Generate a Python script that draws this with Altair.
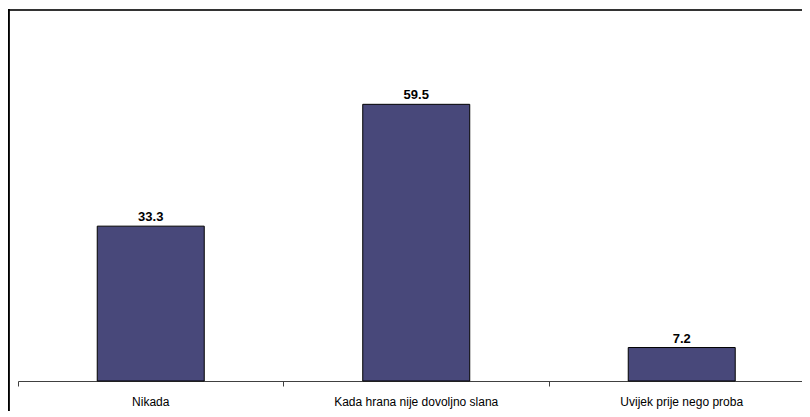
import altair as alt
import pandas as pd

categories = ["Nikada", "Kada hrana nije dovoljno slana", "Uvijek prije nego proba"]
values = [33.3, 59.5, 7.2]
labels = ["33.3", "59.5", "7.2"]

W = 784
H = 372
half = 0.2015

df = pd.DataFrame({
    "idx": list(range(len(categories))),
    "cat": categories,
    "val": values,
    "lab": labels,
})
df["x1"] = df["idx"] - half
df["x2"] = df["idx"] + half
df["zero"] = 0.0

xscale = alt.Scale(domain=[-0.5, 2.453], nice=False, zero=False)
yscale = alt.Scale(domain=[0, 80], nice=False)

base = alt.Chart(df)

bars = base.mark_bar(color="#48487A", stroke="#000000", strokeWidth=1).encode(
    x=alt.X("x1:Q", scale=xscale,
            axis=alt.Axis(values=[-0.5, 0.5, 1.5], labels=False, title=None, grid=False,
                          ticks=True, tickSize=5, tickColor="#404040",
                          domainColor="#404040", domainWidth=1)),
    x2="x2:Q",
    y=alt.Y("val:Q", scale=yscale, axis=None),
    y2="zero:Q",
)

vals = base.mark_text(font="Liberation Sans", fontSize=13, fontWeight="bold",
                      color="#000000", baseline="alphabetic", dy=-5).encode(
    x=alt.X("idx:Q", scale=xscale),
    y=alt.Y("val:Q", scale=yscale),
    text="lab:N",
)

cats = base.mark_text(font="Liberation Sans", fontSize=12, color="#000000",
                      baseline="alphabetic").encode(
    x=alt.X("idx:Q", scale=xscale),
    y=alt.value(H + 25),
    text="cat:N",
)

frame_top = base.mark_rect(color="#333333", clip=False).encode(
    x=alt.value(-10), x2=alt.value(W), y=alt.value(0), y2=alt.value(2)
)
frame_left = base.mark_rect(color="#000000", clip=False).encode(
    x=alt.value(-10), x2=alt.value(-8.5), y=alt.value(0), y2=alt.value(H + 30)
)

chart = alt.layer(frame_top, frame_left, bars, vals, cats).properties(
    width=W, height=H,
    autosize=alt.AutoSizeParams(type="none"),
    padding={"left": 10, "top": 1, "right": 0, "bottom": 30},
    background="white",
).configure_view(stroke=None)

chart.save("out.html", embed_options={"renderer": "svg", "actions": False})
